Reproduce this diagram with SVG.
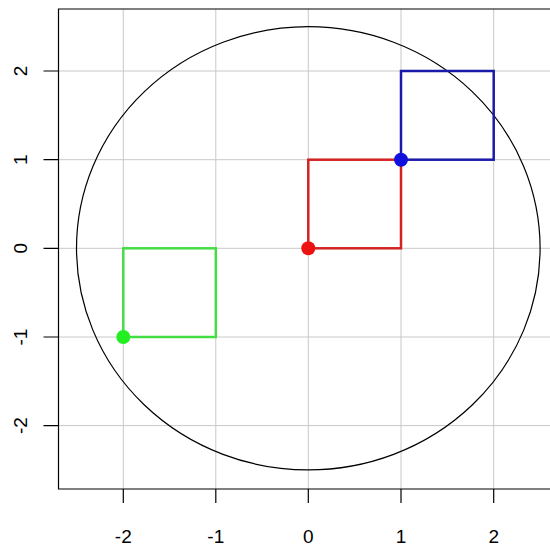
<svg xmlns="http://www.w3.org/2000/svg" width="550" height="550" viewBox="0 0 550 550">
<style>
.grid{stroke:#c8c8c8;stroke-width:1;fill:none}
.axis{stroke:#000;stroke-width:1.2;fill:none}
.lbl{font-family:"Liberation Sans",Arial,sans-serif;font-size:19px;fill:#000;text-anchor:middle}
.sq{fill:none;stroke-width:2.5}
</style>
<rect width="550" height="550" fill="#fff"/>
<g id="grid">
<line class="grid" x1="123.3" y1="9" x2="123.3" y2="489"/>
<line class="grid" x1="215.8" y1="9" x2="215.8" y2="489"/>
<line class="grid" x1="308.3" y1="9" x2="308.3" y2="489"/>
<line class="grid" x1="401" y1="9" x2="401" y2="489"/>
<line class="grid" x1="493.7" y1="9" x2="493.7" y2="489"/>
<line class="grid" x1="58.5" y1="71" x2="550" y2="71"/>
<line class="grid" x1="58.5" y1="159.7" x2="550" y2="159.7"/>
<line class="grid" x1="58.5" y1="248.3" x2="550" y2="248.3"/>
<line class="grid" x1="58.5" y1="337" x2="550" y2="337"/>
<line class="grid" x1="58.5" y1="425.6" x2="550" y2="425.6"/>
</g>
<g id="axes">
<path class="axis" d="M551,9 H58.5 V489 H551"/>
<path class="axis" d="M123.3,489 v14 M215.8,489 v14 M308.3,489 v14 M401,489 v14 M493.7,489 v14"/>
<path class="axis" d="M58.5,71 h-15 M58.5,159.7 h-15 M58.5,248.3 h-15 M58.5,337 h-15 M58.5,425.6 h-15"/>
<text class="lbl" x="123.3" y="543">-2</text>
<text class="lbl" x="215.8" y="543">-1</text>
<text class="lbl" x="308.3" y="543">0</text>
<text class="lbl" x="401" y="543">1</text>
<text class="lbl" x="493.7" y="543">2</text>
<text class="lbl" transform="translate(27,71) rotate(-90)">2</text>
<text class="lbl" transform="translate(27,159.7) rotate(-90)">1</text>
<text class="lbl" transform="translate(27,248.3) rotate(-90)">0</text>
<text class="lbl" transform="translate(27,337) rotate(-90)">-1</text>
<text class="lbl" transform="translate(27,425.6) rotate(-90)">-2</text>
</g>
<g id="circle">
<ellipse cx="308.3" cy="248.3" rx="231.8" ry="221.6" fill="none" stroke="#000" stroke-width="1.2"/>
</g>
<g id="green">
<rect class="sq" x="123.3" y="248.3" width="92.5" height="88.7" stroke="#44dd44"/>
<circle cx="123.3" cy="337" r="7" fill="#22ee22"/>
</g>
<g id="red">
<rect class="sq" x="308.3" y="159.7" width="92.7" height="88.6" stroke="#d22222"/>
<circle cx="308.3" cy="248.3" r="7" fill="#ee1111"/>
</g>
<g id="blue">
<rect class="sq" x="401" y="71" width="92.7" height="88.7" stroke="#1a1aa8"/>
<circle cx="401" cy="159.7" r="7" fill="#1111dd"/>
</g>
</svg>
